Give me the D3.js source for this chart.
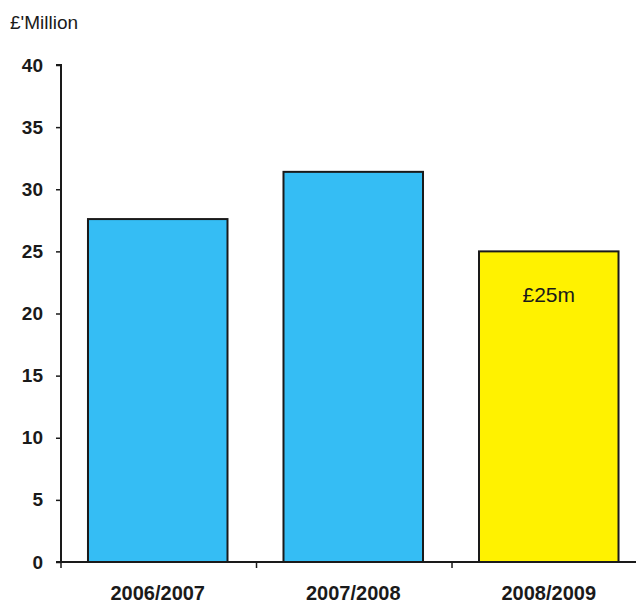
<!DOCTYPE html>
<html>
<head>
<meta charset="utf-8">
<script src="https://cdn.jsdelivr.net/npm/d3@7"></script>
<style>
  html, body { margin: 0; padding: 0; background: #fff; }
  svg { display: block; font-family: Arial, "Liberation Sans", sans-serif; }
</style>
</head>
<body>
<svg id="chart" width="636" height="606"></svg>
<script>
// Annual spend, £ million
const years = ["2006/2007", "2007/2008", "2008/2009"];
const values = [27.6, 31.4, 25];
const barColors = ["#35bdf4", "#35bdf4", "#fff200"];
const yTicks = [0, 5, 10, 15, 20, 25, 30, 35, 40];
const barLabels = ["", "", "£25m"];

const svg = d3.select("#chart");
const x0 = 61, x1 = 645.5, yTop = 65, yBottom = 562;

const x = d3.scaleBand().domain(years).range([x0, x1]).paddingInner(0.2864).paddingOuter(0.138);
const y = d3.scaleLinear().domain([0, 40]).range([yBottom, yTop]);

// Bars
svg.selectAll("rect.bar").data(values).join("rect")
  .attr("class", "bar")
  .attr("x", (d, i) => x(years[i]))
  .attr("y", d => y(d))
  .attr("width", x.bandwidth())
  .attr("height", d => y(0) - y(d))
  .attr("fill", (d, i) => barColors[i])
  .attr("stroke", "#1a1a1a")
  .attr("stroke-width", 2);

// Value label inside the highlighted bar
svg.selectAll("text.barlabel").data(values).join("text")
  .attr("class", "barlabel")
  .attr("x", (d, i) => x(years[i]) + x.bandwidth() / 2)
  .attr("y", d => y(d) + 51)
  .attr("text-anchor", "middle")
  .attr("font-size", 21)
  .attr("fill", "#1a1a1a")
  .text((d, i) => barLabels[i]);

// Y axis
const yAxis = svg.append("g")
  .attr("transform", `translate(${x0},0)`)
  .call(d3.axisLeft(y).tickValues(yTicks).tickSize(5).tickPadding(13));
yAxis.select(".domain").attr("stroke", "#1a1a1a").attr("stroke-width", 2).attr("d", `M-5,${yTop}H0V${yBottom}`);
yAxis.selectAll(".tick line").attr("stroke", "#1a1a1a").attr("stroke-width", 1.5);
yAxis.selectAll(".tick text")
  .attr("font-size", 19).attr("font-weight", "bold").attr("fill", "#1a1a1a")
  .attr("font-family", "Arial, 'Liberation Sans', sans-serif");

// X axis: category ticks at band boundaries
const step = x.step();
const boundaries = [0, 1, 2, 3].map(i => x0 + i * step);
svg.append("line")
  .attr("x1", x0 - 5).attr("x2", 636)
  .attr("y1", yBottom).attr("y2", yBottom)
  .attr("stroke", "#1a1a1a").attr("stroke-width", 2);
svg.selectAll("line.xtick").data(boundaries).join("line")
  .attr("class", "xtick")
  .attr("x1", d => d).attr("x2", d => d)
  .attr("y1", yBottom).attr("y2", yBottom + 6)
  .attr("stroke", "#1a1a1a").attr("stroke-width", 1.5);

svg.selectAll("text.cat").data(years).join("text")
  .attr("class", "cat")
  .attr("x", d => x(d) + x.bandwidth() / 2)
  .attr("y", 600)
  .attr("text-anchor", "middle")
  .attr("font-size", 20)
  .attr("font-weight", "bold")
  .attr("fill", "#1a1a1a")
  .text(d => d);

// Unit title
svg.append("text")
  .attr("x", 10).attr("y", 29)
  .attr("font-size", 19)
  .attr("fill", "#1a1a1a")
  .text("£'Million");
</script>
</body>
</html>
